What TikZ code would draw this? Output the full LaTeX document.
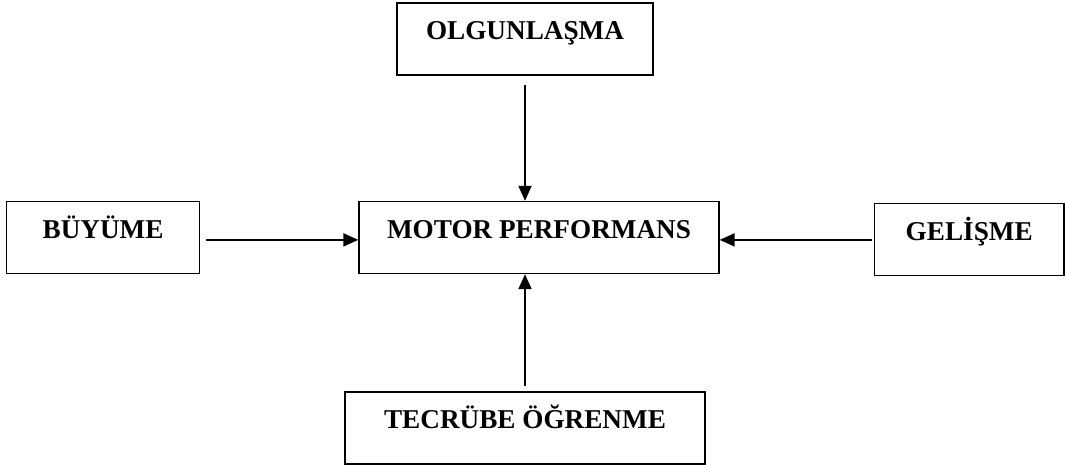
\documentclass[tikz,border=0pt]{standalone}
\usepackage{fontspec}
\setmainfont{Liberation Serif}
\usetikzlibrary{arrows.meta, positioning}

\tikzset{
  kutu/.style={draw, line width=0.7pt, inner sep=0pt, text height=18.25pt, text depth=17.75pt,
    font=\fontsize{13.6pt}{16pt}\selectfont\bfseries},
  ok/.style={line width=1pt, -{Triangle[length=7.5pt,width=6.5pt]}}
}

\begin{document}
\begin{tikzpicture}
    \useasboundingbox (0,0) rectangle (532.5pt,-232.5pt);
    \node (motor) [kutu, minimum width=180pt] at (269.5pt,-118.75pt) {MOTOR PERFORMANS};
    \node [above=62.5pt of motor, xshift=-7pt] (olg) [kutu, minimum width=128pt] {OLGUNLAŞMA};
    \draw [ok] ([yshift=-4.5pt]olg.south) -- (olg.south |- motor.north);
    \node [left=79pt of motor] (buyume) [kutu, minimum width=96.5pt] {BÜYÜME};
    \draw [ok] ([xshift=3pt,yshift=-1.2pt]buyume.east) -- ([yshift=-1.2pt]motor.west);
    \node [right=77pt of motor, yshift=-1pt] (gelisme) [kutu, minimum width=94.8pt] {GELİŞME};
    \draw [ok] ([xshift=-1pt,yshift=-0.2pt]gelisme.west) -- ([yshift=-1.2pt]motor.east);
    \node [below=58.5pt of motor, xshift=-7pt] (tecrube) [kutu, minimum width=180pt] {TECRÜBE ÖĞRENME};
    \draw [ok] ([yshift=2.5pt]tecrube.north) -- (tecrube.north |- motor.south);
\end{tikzpicture}
\end{document}
